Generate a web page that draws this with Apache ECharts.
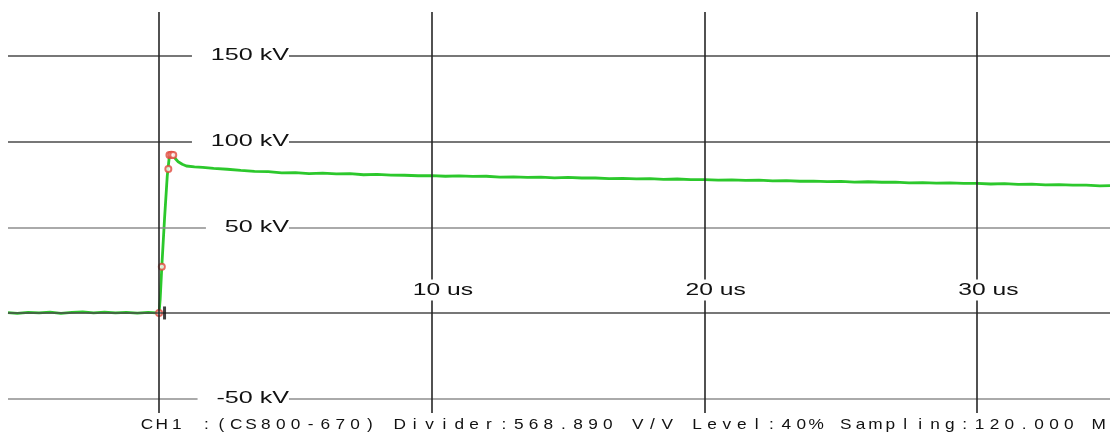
<!DOCTYPE html>
<html><head><meta charset="utf-8">
<script src="https://cdn.jsdelivr.net/npm/echarts@6/dist/echarts.min.js"></script>
<style>html,body{margin:0;padding:0;background:#fff;}#c{width:1110px;height:436px;}</style>
</head><body><div id="c"></div>
<script>
// ---------------- data ----------------
const traceT = [-5.54,-5.2,-4.8,-4.4,-4.0,-3.6,-3.2,-2.8,-2.4,-2.0,-1.6,-1.2,-0.8,-0.4,-0.1,
  0.0,0.04,0.1,0.2,0.3,0.34,0.38,0.45,0.52,0.6,0.7,0.85,1.0,1.3,1.6,2.0,2.5,3.0,3.5,
  4.0,4.5,5.0,5.5,6.0,6.5,7.0,7.5,8.0,8.5,9.0,9.5,10.0,10.5,11.0,11.5,12.0,12.5,13.0,13.5,
  14.0,14.5,15.0,15.5,16.0,16.5,17.0,17.5,18.0,18.5,19.0,19.5,20.0,20.5,21.0,21.5,22.0,22.5,
  23.0,23.5,24.0,24.5,25.0,25.5,26.0,26.5,27.0,27.5,28.0,28.5,29.0,29.5,30.0,30.5,31.0,31.5,
  32.0,32.5,33.0,33.5,34.0,34.5,34.87];
const traceV = [0.2,-0.3,0.4,0.0,0.5,-0.2,0.3,0.6,0.1,0.5,0.0,0.4,-0.1,0.3,0.0,
  0.3,8,27,55,80,86,92.0,92.4,92.0,90.0,88.3,86.8,85.8,85.3,85.0,84.4,83.9,83.2,82.6,
  82.5,81.8,81.9,81.4,81.6,81.2,81.3,80.7,80.9,80.5,80.4,80.1,80.2,79.8,80.0,79.7,79.8,79.3,79.5,79.2,
  79.3,78.9,79.1,78.8,78.8,78.4,78.6,78.3,78.4,78.0,78.2,77.8,77.9,77.5,77.7,77.4,77.5,77.1,
  77.3,76.9,77.0,76.7,76.8,76.4,76.6,76.3,76.4,76.0,76.1,75.8,75.9,75.6,75.7,75.3,75.5,75.1,
  75.2,74.8,74.9,74.6,74.6,74.2,74.3];
const markerT = [0.0, 0.1, 0.34, 0.38, 0.45, 0.52];
const markerV = [0.0, 27, 84, 92.2, 92.4, 92.2];
const cursorT = [0.2];
const cursorV = [0];
const yGridValues = [-50, 0, 50, 100, 150];
const xGridValues = [0, 10, 20, 30];
const yTickValues = [-50, 50, 100, 150];
const yTickLabels = ['-50 kV', '50 kV', '100 kV', '150 kV'];
const xTickValues = [10, 20, 30];
const xTickLabels = ['10 us', '20 us', '30 us'];
const footerText = 'CH1 :(CS800-670) Divider:568.890 V/V Level:40% Sampling:120.000 M';

// ---------------- styles / layout ----------------
const X_MIN = -5.54, X_MAX = 34.87, Y_MIN = -58.4, Y_MAX = 175.7;
const X_LABEL_LEVEL = 14.0;           // kV level where the time labels sit
const Y_LABEL_RIGHT = 289;            // px, right edge of the voltage labels
const FONT = '"Liberation Sans", Arial, sans-serif';
const hLineColor = v => (v === 50 || v === -50) ? '#8e8e8e' : '#4a4a4a';

const chart = echarts.init(document.getElementById('c'), null, {renderer: 'canvas'});
const option = {
  animation: false,
  backgroundColor: '#fff',
  grid: {left: 8, right: 0, top: 12, bottom: 23},
  xAxis: {type: 'value', min: X_MIN, max: X_MAX, show: false},
  yAxis: {type: 'value', min: Y_MIN, max: Y_MAX, show: false},
  series: [
    {
      type: 'line', data: [], z: 1, silent: true,
      markLine: {
        silent: true, symbol: 'none', label: {show: false}, animation: false,
        data: yGridValues.map(v => ({yAxis: v, lineStyle: {color: hLineColor(v), width: 1.6, type: 'solid'}}))
      }
    },
    {
      type: 'line', z: 2, silent: true, showSymbol: false,
      data: traceT.map((t, i) => [t, traceV[i]]),
      lineStyle: {color: '#2cc82c', width: 2.8}
    },
    {
      type: 'line', data: [], z: 3, silent: true,
      markLine: {
        silent: true, symbol: 'none', label: {show: false}, animation: false,
        data: xGridValues.map(v => ({xAxis: v, lineStyle: {color: '#262626', width: 1.6, type: 'solid'}}))
      }
    },
    {
      type: 'scatter', z: 4, silent: true,
      data: markerT.map((t, i) => [t, markerV[i]]),
      symbol: 'emptyCircle', symbolSize: 6,
      itemStyle: {color: '#e0483c', borderColor: '#e0483c', borderWidth: 1}
    },
    {
      type: 'scatter', z: 5, silent: true,
      data: cursorT.map((t, i) => [t, cursorV[i]]),
      symbol: 'rect', symbolSize: [3, 13],
      itemStyle: {color: '#111'}
    }
  ]
};
chart.setOption(option);

const graphics = [];
yTickValues.forEach((v, i) => {
  const p = chart.convertToPixel({gridIndex: 0}, [0, v]);
  graphics.push({
    type: 'text', x: Y_LABEL_RIGHT, y: p[1], scaleX: 1.57, z: 100, silent: true,
    style: {
      text: yTickLabels[i], fontSize: 16, fontFamily: FONT, fill: '#111',
      align: 'right', verticalAlign: 'middle',
      backgroundColor: '#fff', padding: [2, 0, 2, 12]
    }
  });
});
xTickValues.forEach((v, i) => {
  const p = chart.convertToPixel({gridIndex: 0}, [v, X_LABEL_LEVEL]);
  graphics.push({
    type: 'text', x: p[0] - 19, y: p[1] + 1, scaleX: 1.45, z: 100, silent: true,
    style: {
      text: xTickLabels[i], fontSize: 17, fontFamily: FONT, fill: '#111',
      align: 'left', verticalAlign: 'middle',
      backgroundColor: '#fff', padding: [2, 0, 2, 0]
    }
  });
});
const footerRich = Array.from(footerText).map(c => '{c|' + c + '}').join('');
graphics.push({
  type: 'text', x: 139.5, y: 425, scaleX: 1.15, z: 100, silent: true,
  style: {
    text: footerRich, verticalAlign: 'middle',
    rich: {c: {width: 12.93, align: 'center', fontSize: 15, fontFamily: FONT, fill: '#111'}}
  }
});
chart.setOption({graphic: graphics});
</script>
</body></html>
